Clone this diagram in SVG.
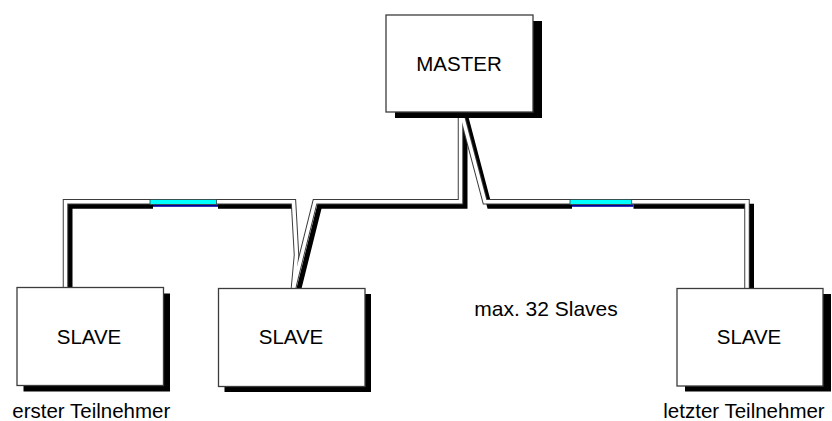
<svg xmlns="http://www.w3.org/2000/svg" width="832" height="421" viewBox="0 0 832 421">
  <style>
    .sh { fill: none; stroke: #000; stroke-width: 5; stroke-linejoin: miter; }
    .ol { fill: none; stroke: #3c3c3c; stroke-width: 5.5; stroke-linejoin: miter; }
    .wh { fill: none; stroke: #fff; stroke-width: 3.5; stroke-linejoin: miter; }
    .box { fill: #fff; stroke: #3c3c3c; stroke-width: 1.3; }
    .bsh { fill: #000; }
    .t { font-family: "Liberation Sans", Arial, sans-serif; font-size: 20.5px; fill: #000; text-anchor: middle; }
    .cy { fill: #00ffff; stroke: #3c3c3c; stroke-width: 0.8; }
    .nv { fill: #0000a0; }
  </style>
  <rect width="832" height="421" fill="#fff"/>
  <g id="connectors">
    <g transform="translate(4.5,4.5)">
      <path class="sh" d="M65.5,290 V201.8 H288"/>
      <path class="sh" d="M293.5,288 L315,201.8 H460.5 V113"/>
      <path class="sh" d="M461.5,113 L485,201.8 H747 V288"/>
    </g>
    <path class="ol" d="M65.5,290 V201.8 H293.5 L296.5,255 L293.5,288"/>
    <path class="ol" d="M293.5,288 L315,201.8 H460.5 V113"/>
    <path class="ol" d="M461.5,113 L485,201.8 H747 V290"/>
    <path class="wh" d="M65.5,290 V201.8 H293.5 L296.5,255 L293.5,288"/>
    <path class="wh" d="M293.5,288 L315,201.8 H460.5 V113"/>
    <path class="wh" d="M461.5,113 L485,201.8 H747 V290"/>
    <g id="coupler-left">
      <rect x="153" y="204.6" width="65" height="5" fill="#fff"/>
      <rect class="nv" x="153" y="204.6" width="65" height="2.2"/>
      <rect class="cy" x="150" y="199.4" width="66.5" height="5"/>
    </g>
    <g id="coupler-right">
      <rect x="572" y="204.6" width="61.5" height="5" fill="#fff"/>
      <rect class="nv" x="572" y="204.6" width="61.5" height="2.2"/>
      <rect class="cy" x="570" y="199.4" width="61.7" height="5"/>
    </g>
  </g>
  <g id="master">
    <rect class="bsh" x="395" y="21" width="147" height="97"/>
    <rect class="box" x="386" y="15" width="147" height="97"/>
    <text class="t" x="459" y="71" font-size="21">MASTER</text>
  </g>
  <g id="slave1">
    <rect class="bsh" x="23.5" y="293.5" width="146.5" height="98"/>
    <rect class="box" x="17" y="287.5" width="146.5" height="98"/>
    <text class="t" x="89" y="343.5">SLAVE</text>
  </g>
  <g id="slave2">
    <rect class="bsh" x="224.5" y="294" width="146.5" height="98"/>
    <rect class="box" x="218.5" y="288.5" width="146.5" height="98"/>
    <text class="t" x="291" y="344">SLAVE</text>
  </g>
  <g id="slave3">
    <rect class="bsh" x="685" y="294" width="146" height="97.5"/>
    <rect class="box" x="677" y="288.5" width="146" height="97.5"/>
    <text class="t" x="749" y="344">SLAVE</text>
  </g>
  <g id="labels">
    <text class="t" x="91.3" y="418">erster Teilnehmer</text>
    <text class="t" x="744" y="417.7">letzter Teilnehmer</text>
    <text class="t" x="546" y="315.7" style="font-size:21px">max. 32 Slaves</text>
  </g>
</svg>
